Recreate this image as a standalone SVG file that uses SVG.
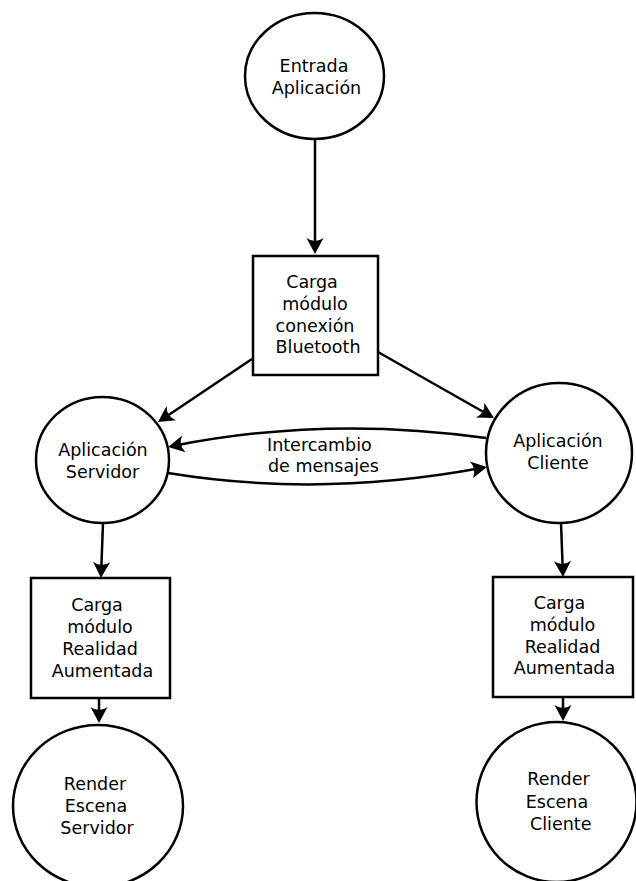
<svg xmlns="http://www.w3.org/2000/svg" width="636" height="881" viewBox="0 0 636 881">
<style>
.n{fill:#fff;stroke:#000;stroke-width:2.5}
.t{font-family:"DejaVu Sans",sans-serif;font-size:17.5px;fill:#000;text-anchor:middle}
.c{fill:none;stroke:#000;stroke-width:2.5;marker-end:url(#arr)}
</style>
<defs>
<marker id="arr" markerUnits="userSpaceOnUse" orient="auto" refX="0" refY="0" markerWidth="30" markerHeight="30" overflow="visible">
<path d="M6,0 L-10,-8.5 Q-4,0 -10,8.5 Z" fill="#000"/>
</marker>
</defs>
<rect width="636" height="881" fill="#fff"/>
<g id="connectors">
<path class="c" d="M315,139 L315,248"/>
<path class="c" d="M252,359 L163,418.7"/>
<path class="c" d="M378,352 L488.8,415"/>
<path class="c" d="M486,438 Q326,415.5 174,445.8"/>
<path class="c" d="M168,473 Q320,498 481.1,468.1"/>
<path class="c" d="M103,523 L101.2,572"/>
<path class="c" d="M99,698 L99,717"/>
<path class="c" d="M561,523 L562.8,571"/>
<path class="c" d="M563,697 L563,715"/>
<text class="t" style="text-anchor:start" x="267" y="451">Intercambio</text>
<text class="t" style="text-anchor:start" x="268" y="472">de mensajes</text>
</g>
<g id="entrada">
<ellipse class="n" cx="314.5" cy="76" rx="69.5" ry="63"/>
<text class="t" x="314" y="72">Entrada</text>
<text class="t" x="316.5" y="94">Aplicación</text>
</g>
<g id="carga-bluetooth">
<rect class="n" x="253" y="256" width="125" height="119"/>
<text class="t" x="312" y="288">Carga</text>
<text class="t" x="315" y="310">módulo</text>
<text class="t" x="315" y="332">conexión</text>
<text class="t" x="318" y="353">Bluetooth</text>
</g>
<g id="app-servidor">
<ellipse class="n" cx="102.5" cy="460" rx="66.5" ry="63"/>
<text class="t" x="103" y="456">Aplicación</text>
<text class="t" x="102.5" y="478">Servidor</text>
</g>
<g id="app-cliente">
<ellipse class="n" cx="559" cy="453" rx="73" ry="70"/>
<text class="t" x="558" y="447">Aplicación</text>
<text class="t" x="558" y="469">Cliente</text>
</g>
<g id="carga-ra-servidor">
<rect class="n" x="31" y="578" width="139" height="120"/>
<text class="t" x="97" y="611">Carga</text>
<text class="t" x="100" y="633">módulo</text>
<text class="t" x="100" y="655">Realidad</text>
<text class="t" x="102.5" y="677">Aumentada</text>
</g>
<g id="carga-ra-cliente">
<rect class="n" x="493" y="577" width="140" height="120"/>
<text class="t" x="559.5" y="609">Carga</text>
<text class="t" x="562.5" y="631">módulo</text>
<text class="t" x="562.5" y="653">Realidad</text>
<text class="t" x="564.5" y="674">Aumentada</text>
</g>
<g id="render-servidor">
<ellipse class="n" cx="98" cy="806" rx="85" ry="81"/>
<text class="t" x="95" y="790">Render</text>
<text class="t" x="96" y="812">Escena</text>
<text class="t" x="97" y="834">Servidor</text>
</g>
<g id="render-cliente">
<ellipse class="n" cx="556.5" cy="802" rx="80" ry="80"/>
<text class="t" x="558.5" y="785">Render</text>
<text class="t" x="557" y="808">Escena</text>
<text class="t" x="560.7" y="830">Cliente</text>
</g>
</svg>
